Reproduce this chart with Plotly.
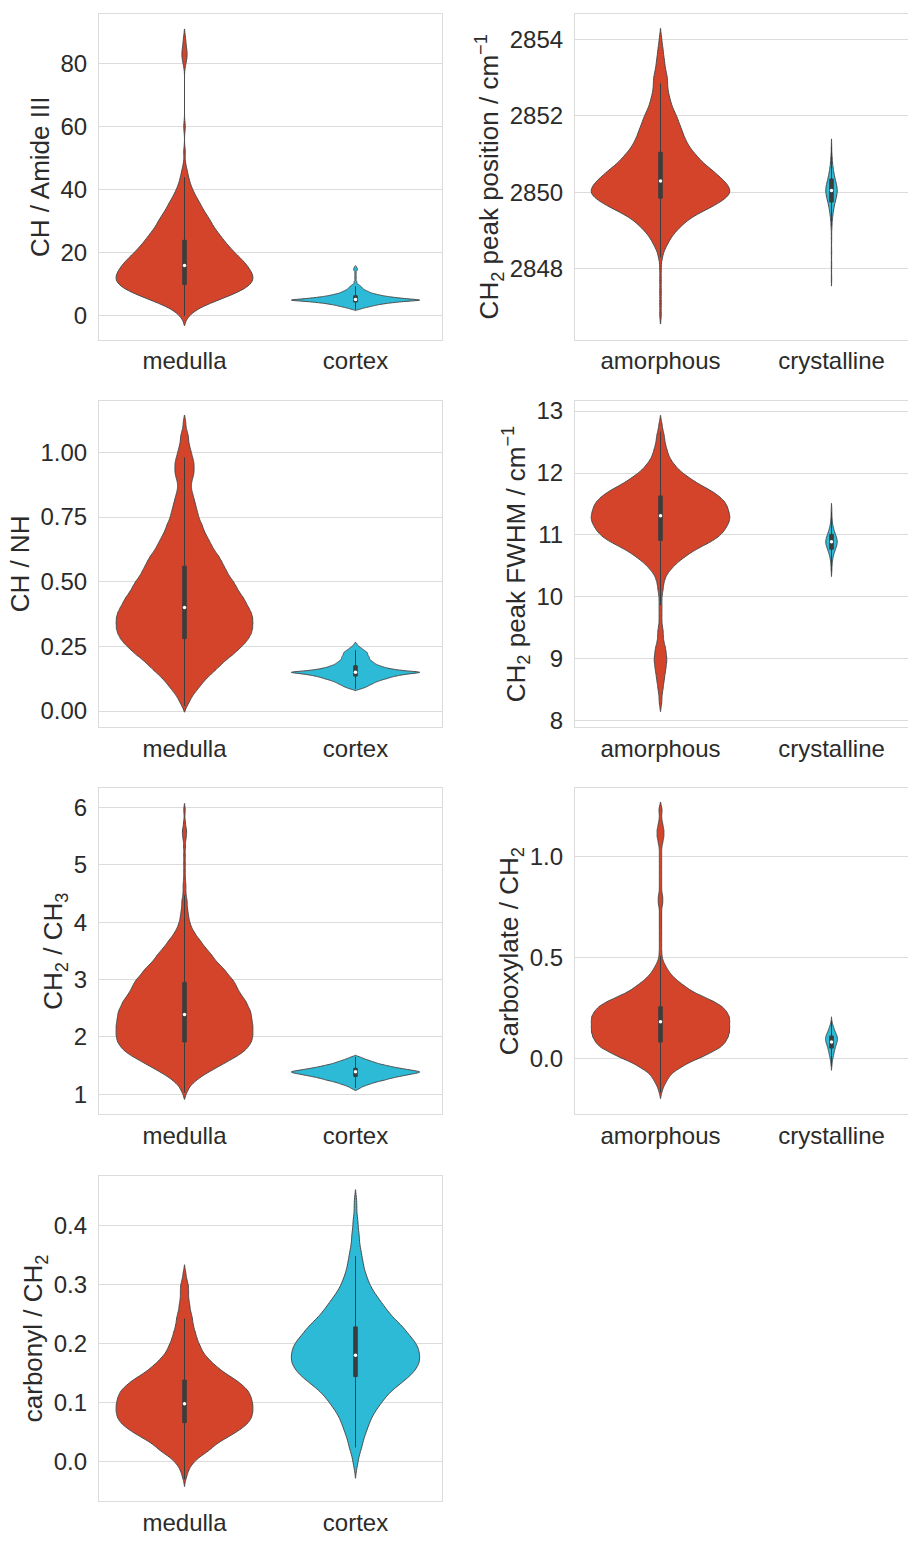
import statistics
import plotly.graph_objects as go

# ---------------- data: sample values (binned) ----------------
groups_hair = ["medulla", "cortex"]
groups_lipid = ["amorphous", "crystalline"]

# Panel 1: CH / Amide III
ch_amide_medulla_values = [0, 2, 4, 6, 8, 10, 12, 14, 16, 18, 20, 22, 24, 26, 28, 30, 32, 34, 36, 38,
                           40, 42, 44, 46, 48, 52, 60, 80, 82, 84, 86, 88]
ch_amide_medulla_counts = [3, 8, 18, 30, 41, 48, 50, 48, 45, 41, 36, 32, 28, 25, 21, 19, 16, 13, 11, 8,
                           6, 4, 3, 2, 1, 1, 1, 1, 2, 2, 1, 1]
ch_amide_cortex_values = [2.0, 2.2, 2.4, 2.6, 2.8, 3.0, 3.2, 3.4, 3.6, 3.8, 4.0, 4.2, 4.4, 4.6, 4.8,
                          5.0, 5.2, 5.4, 5.6, 5.8, 6.0, 6.2, 6.4, 6.6, 6.8, 7.0, 7.2, 7.4, 7.6, 7.8,
                          8.0, 8.2, 8.4, 8.6, 8.8, 9.0, 9.2, 9.4, 9.6, 9.8, 10.0, 10.2, 10.4, 10.6,
                          10.8, 11.0, 11.4, 11.8, 12.2, 12.6, 13.0, 13.4, 13.8, 14.2, 14.5, 14.8,
                          15.1, 15.4, 15.6]
ch_amide_cortex_counts = [2, 4, 5, 7, 9, 11, 13, 15, 17, 20, 23, 27, 31, 36, 42,
                          50, 44, 39, 34, 30, 26, 23, 20, 18, 16, 14, 12, 11, 10, 9,
                          8, 7, 6, 6, 5, 5, 4, 4, 3, 3, 2, 1, 1, 1,
                          1, 1, 1, 1, 1, 1, 1, 1, 1, 1, 2, 2,
                          2, 1, 1]

# Panel 2: CH2 peak position
ch2_pos_amorphous_values = [2846.8, 2847.1, 2847.4, 2847.7, 2848.0, 2848.3, 2848.5, 2848.65, 2848.8,
                            2848.95, 2849.1, 2849.25, 2849.4, 2849.55, 2849.7, 2849.85, 2850.0,
                            2850.15, 2850.3, 2850.45, 2850.6, 2850.75, 2850.9, 2851.05, 2851.2,
                            2851.35, 2851.5, 2851.65, 2851.8, 2851.95, 2852.1, 2852.25, 2852.4,
                            2852.55, 2852.7, 2852.85, 2853.0, 2853.15, 2853.3, 2853.45, 2853.6,
                            2853.75, 2853.9, 2854.05]
ch2_pos_amorphous_counts = [1, 1, 1, 1, 1, 2, 3, 5, 7,
                            10, 14, 18, 24, 32, 40, 46, 50,
                            48, 45, 40, 36, 30, 27, 23, 20,
                            18, 16, 15, 13, 12, 10, 8, 7,
                            6, 5, 5, 5, 4, 3, 3, 2,
                            2, 1, 1]
ch2_pos_crystalline_values = [2847.75, 2848.1, 2848.45, 2848.8, 2849.1, 2849.3, 2849.45, 2849.6,
                              2849.75, 2849.9, 2850.05, 2850.2, 2850.35, 2850.5, 2850.65, 2850.8,
                              2850.95, 2851.2]
ch2_pos_crystalline_counts = [1, 1, 1, 1, 2, 3, 5, 8, 12, 17, 20, 17, 12, 8, 5, 3, 2, 1]

# Panel 3: CH / NH
ch_nh_medulla_values = [0.02, 0.04, 0.06, 0.08, 0.10, 0.12, 0.14, 0.16, 0.18, 0.20, 0.22, 0.24,
                        0.26, 0.28, 0.30, 0.32, 0.34, 0.36, 0.38, 0.40, 0.42, 0.44, 0.46, 0.48,
                        0.50, 0.52, 0.54, 0.56, 0.58, 0.60, 0.62, 0.64, 0.66, 0.68, 0.70, 0.72,
                        0.74, 0.76, 0.78, 0.80, 0.82, 0.84, 0.86, 0.88, 0.90, 0.92, 0.94, 0.96,
                        0.98, 1.00, 1.02, 1.04, 1.06, 1.08, 1.10, 1.12]
ch_nh_medulla_counts = [2, 4, 6, 9, 12, 15, 19, 23, 27, 31, 36, 40,
                        44, 47, 49, 50, 50, 50, 49, 47, 45, 43, 40, 38,
                        36, 33, 31, 29, 27, 25, 22, 20, 18, 16, 14, 13,
                        11, 10, 9, 8, 7, 6, 5, 5, 6, 7, 7, 7,
                        6, 5, 4, 3, 3, 2, 1, 1]
ch_nh_cortex_values = [0.085, 0.09, 0.095, 0.1, 0.105, 0.11, 0.115, 0.12, 0.125, 0.13, 0.135, 0.14,
                       0.145, 0.15, 0.155, 0.16, 0.165, 0.17, 0.175, 0.18, 0.185, 0.19, 0.195,
                       0.2, 0.205, 0.21, 0.215, 0.22, 0.225, 0.23, 0.235, 0.24, 0.245, 0.25,
                       0.255, 0.26]
ch_nh_cortex_counts = [3, 5, 7, 8, 10, 11, 13, 15, 18, 20, 23, 27,
                       32, 40, 29, 23, 19, 16, 14, 12, 11, 10, 9,
                       8, 8, 8, 7, 7, 7, 6, 5, 4, 3, 2,
                       1, 1]

# Panel 4: CH2 peak FWHM
fwhm_amorphous_values = [8.27, 8.35, 8.43, 8.51, 8.59, 8.67, 8.75, 8.83, 8.91, 8.99, 9.07, 9.15,
                         9.23, 9.31, 9.39, 9.47, 9.55, 9.63, 9.71, 9.79, 9.87, 9.95, 10.03, 10.11,
                         10.19, 10.27, 10.35, 10.43, 10.51, 10.59, 10.67, 10.75, 10.83, 10.91,
                         10.99, 11.07, 11.15, 11.23, 11.31, 11.39, 11.47, 11.55, 11.63, 11.71,
                         11.79, 11.87, 11.95, 12.03, 12.11, 12.19, 12.27, 12.35, 12.43, 12.51,
                         12.59, 12.67, 12.75, 12.81]
fwhm_amorphous_counts = [1, 1, 1, 2, 2, 3, 3, 4, 4, 5, 4, 4,
                         3, 2, 2, 2, 1, 1, 1, 1, 1, 1, 1, 2,
                         2, 3, 4, 7, 10, 14, 19, 24, 31, 38,
                         43, 46, 48, 50, 50, 49, 48, 46, 42, 37,
                         30, 24, 19, 14, 11, 8, 6, 5, 4, 3,
                         3, 2, 1, 1]
fwhm_crystalline_values = [10.41, 10.47, 10.53, 10.59, 10.65, 10.71, 10.77, 10.83, 10.89, 10.95,
                           11.01, 11.07, 11.13, 11.19, 11.25, 11.31, 11.37, 11.43]
fwhm_crystalline_counts = [1, 1, 2, 3, 5, 8, 12, 16, 18, 16, 12, 8, 5, 3, 2, 1, 1, 1]

# Panel 5: CH2 / CH3
ch2_ch3_medulla_values = [1.03, 1.11, 1.19, 1.27, 1.35, 1.43, 1.51, 1.59, 1.67, 1.75, 1.83, 1.91,
                          1.99, 2.07, 2.15, 2.23, 2.31, 2.39, 2.47, 2.55, 2.63, 2.71, 2.79, 2.87,
                          2.95, 3.03, 3.11, 3.19, 3.27, 3.35, 3.43, 3.51, 3.59, 3.67, 3.75, 3.83,
                          3.91, 3.99, 4.07, 4.15, 4.23, 4.31, 4.39, 4.47, 4.55, 4.63, 4.71,
                          4.85, 5.0, 5.15, 5.3, 5.42, 5.52, 5.62, 5.75, 5.95]
ch2_ch3_medulla_counts = [2, 3, 6, 10, 15, 21, 27, 33, 39, 44, 47, 49,
                          50, 50, 50, 50, 49, 49, 48, 46, 45, 42, 40, 38,
                          37, 34, 31, 29, 25, 22, 20, 17, 14, 12, 9, 7,
                          5, 4, 3, 3, 2, 2, 2, 1, 1, 1, 1,
                          1, 1, 1, 1, 1, 2, 2, 1, 1]
ch2_ch3_cortex_values = [1.09, 1.11, 1.13, 1.15, 1.17, 1.19, 1.21, 1.23, 1.25, 1.27, 1.29, 1.31,
                         1.33, 1.35, 1.37, 1.39, 1.41, 1.43, 1.45, 1.47, 1.49, 1.51, 1.53, 1.55,
                         1.57, 1.59, 1.61, 1.63, 1.65]
ch2_ch3_cortex_counts = [2, 3, 4, 6, 8, 10, 12, 15, 18, 20, 23, 26,
                         30, 33, 37, 40, 35, 31, 27, 23, 20, 17, 14, 12,
                         10, 8, 6, 4, 3]

# Panel 6: Carboxylate / CH2
carboxylate_amorphous_values = [-0.17, -0.145, -0.12, -0.095, -0.07, -0.045, -0.02, 0.005, 0.03,
                                0.055, 0.08, 0.105, 0.13, 0.155, 0.18, 0.205, 0.23, 0.255, 0.28,
                                0.305, 0.33, 0.355, 0.38, 0.405, 0.43, 0.455, 0.48, 0.505,
                                0.53, 0.56, 0.59, 0.62, 0.65, 0.68, 0.71, 0.74, 0.77, 0.80, 0.83,
                                0.86, 0.89, 0.92, 0.95, 0.98, 1.01, 1.04, 1.07, 1.10, 1.13, 1.16,
                                1.19, 1.22, 1.24]
carboxylate_amorphous_counts = [1, 2, 4, 6, 9, 15, 21, 30, 37,
                                44, 47, 49, 50, 50, 50, 50, 48, 45, 39,
                                31, 23, 18, 13, 9, 6, 4, 2, 1,
                                1, 1, 1, 1, 1, 1, 1, 1, 2, 2, 1,
                                1, 1, 1, 1, 1, 1, 1, 2, 3, 3, 2,
                                1, 1, 1]
carboxylate_crystalline_values = [-0.04, -0.025, -0.01, 0.005, 0.02, 0.035, 0.05, 0.065, 0.08,
                                  0.095, 0.11, 0.125, 0.14, 0.155, 0.17, 0.185]
carboxylate_crystalline_counts = [1, 2, 3, 5, 7, 9, 11, 14, 17, 19, 17, 13, 9, 6, 3, 1]

# Panel 7: carbonyl / CH2
carbonyl_medulla_values = [-0.03, -0.022, -0.014, -0.006, 0.002, 0.010, 0.018, 0.026, 0.034, 0.042,
                           0.050, 0.058, 0.066, 0.074, 0.082, 0.090, 0.098, 0.106, 0.114, 0.122,
                           0.130, 0.138, 0.146, 0.154, 0.162, 0.170, 0.178, 0.186, 0.194, 0.202,
                           0.210, 0.218, 0.226, 0.234, 0.242, 0.250, 0.258, 0.266, 0.274, 0.282,
                           0.290, 0.298, 0.306, 0.314, 0.321]
carbonyl_medulla_counts = [1, 2, 3, 5, 8, 12, 18, 21, 26, 32,
                           38, 43, 47, 49, 50, 50, 50, 49, 48, 46,
                           42, 38, 32, 27, 23, 19, 16, 13, 12, 10,
                           9, 8, 7, 6, 6, 5, 4, 4, 3, 3,
                           3, 3, 2, 1, 1]
carbonyl_cortex_values = [-0.012, 0.0, 0.012, 0.024, 0.036, 0.048, 0.06, 0.072, 0.084, 0.096, 0.108,
                          0.12, 0.132, 0.144, 0.156, 0.168, 0.18, 0.192, 0.204, 0.216, 0.228, 0.24,
                          0.252, 0.264, 0.276, 0.288, 0.3, 0.312, 0.324, 0.336, 0.348, 0.36, 0.372,
                          0.384, 0.396, 0.408, 0.42, 0.432, 0.444]
carbonyl_cortex_counts = [1, 2, 3, 5, 6, 8, 10, 12, 15, 19, 23,
                          28, 35, 42, 47, 50, 50, 49, 46, 41, 37, 31,
                          26, 22, 18, 14, 11, 9, 7, 6, 5, 4, 3,
                          3, 2, 2, 1, 1, 1]

y_titles = [
    "CH / Amide III",
    "CH<sub>2</sub> peak position / cm<sup>\u22121</sup>",
    "CH / NH",
    "CH<sub>2</sub> peak FWHM / cm<sup>\u22121</sup>",
    "CH<sub>2</sub> / CH<sub>3</sub>",
    "Carboxylate / CH<sub>2</sub>",
    "carbonyl / CH<sub>2</sub>",
]


def expand(values, counts):
    out = []
    for v, c in zip(values, counts):
        out.extend([v] * c)
    return out


# ---------------- styling ----------------
RED = "#D3442B"
CYAN = "#2DBAD6"
EDGE = "#4a4a4a"
BOX = "#3d3d3d"
GRID = "#dcdcdc"
FONT = "Liberation Sans, Arial, sans-serif"
TXT = "#2b2b2b"
W, H = 908, 1541                 # figure fills the whole page (body margin removed below)
CAT_PX = 171.0                   # pixels per category unit

panels = [
    # cats, [(values, counts) x2], bandwidths, widths, y range, dtick, tickformat, col, row
    (groups_hair, [(ch_amide_medulla_values, ch_amide_medulla_counts),
                   (ch_amide_cortex_values, ch_amide_cortex_counts)],
     [1.5, 0.15], [0.80, 0.75], [-7.5, 95.8], 20, None, 0, 0),
    (groups_lipid, [(ch2_pos_amorphous_values, ch2_pos_amorphous_counts),
                    (ch2_pos_crystalline_values, ch2_pos_crystalline_counts)],
     [0.12, 0.1], [0.81, 0.067], [2846.15, 2854.67], 2, None, 1, 0),
    (groups_hair, [(ch_nh_medulla_values, ch_nh_medulla_counts),
                   (ch_nh_cortex_values, ch_nh_cortex_counts)],
     [0.012, 0.003], [0.80, 0.75], [-0.061, 1.198], 0.25, ".2f", 0, 1),
    (groups_lipid, [(fwhm_amorphous_values, fwhm_amorphous_counts),
                    (fwhm_crystalline_values, fwhm_crystalline_counts)],
     [0.06, 0.04], [0.81, 0.067], [7.904, 13.16], 1, None, 1, 1),
    (groups_hair, [(ch2_ch3_medulla_values, ch2_ch3_medulla_counts),
                   (ch2_ch3_cortex_values, ch2_ch3_cortex_counts)],
     [0.06, 0.015], [0.80, 0.75], [0.654, 6.334], 1, None, 0, 2),
    (groups_lipid, [(carboxylate_amorphous_values, carboxylate_amorphous_counts),
                    (carboxylate_crystalline_values, carboxylate_crystalline_counts)],
     [0.015, 0.01], [0.81, 0.07], [-0.277, 1.338], 0.5, ".1f", 1, 2),
    (groups_hair, [(carbonyl_medulla_values, carbonyl_medulla_counts),
                   (carbonyl_cortex_values, carbonyl_cortex_counts)],
     [0.006, 0.008], [0.80, 0.75], [-0.067, 0.484], 0.1, ".1f", 0, 3),
]

# panel frames in page pixels (right column is cut by the page edge)
row_px = [(10, 338), (400, 728), (790, 1118), (1180, 1508)]
col_px = [(99, 442), (575, 908)]

fig = go.Figure()
layout = dict(
    width=W, height=H, margin=dict(l=0, r=0, t=0, b=0),
    paper_bgcolor="white", plot_bgcolor="white",
    violinmode="overlay", showlegend=False,
    font=dict(family=FONT, color=TXT),
)

for i, (cats, datas, bws, widths, yr, dt, tf, col, row) in enumerate(panels):
    n = i + 1
    xa = "x" if n == 1 else f"x{n}"
    ya = "y" if n == 1 else f"y{n}"
    for cat, (vals, cnts), bw, w, color in zip(cats, datas, bws, widths, [RED, CYAN]):
        samples = expand(vals, cnts)
        fig.add_trace(go.Violin(
            x=[cat] * len(samples), y=samples, name=cat, xaxis=xa, yaxis=ya,
            fillcolor=color, line=dict(color=EDGE, width=1), opacity=1,
            points=False, spanmode="soft", bandwidth=bw,
            scalemode="width", width=w,
            box=dict(visible=True, width=3.5 / (w * CAT_PX), fillcolor=BOX,
                     line=dict(color=BOX, width=1)),
            meanline=dict(visible=False), showlegend=False, hoverinfo="y",
        ))
        # white median dot (seaborn-style inner box)
        fig.add_trace(go.Scatter(
            x=[cat], y=[statistics.median(samples)], xaxis=xa, yaxis=ya,
            mode="markers", marker=dict(color="white", size=3.5, line=dict(width=0)),
            showlegend=False, hoverinfo="skip",
        ))
    x0, x1 = col_px[col]
    y0, y1 = row_px[row]
    xr = [-0.5, -0.5 + (x1 - x0) / CAT_PX]
    xkey = "xaxis" if n == 1 else f"xaxis{n}"
    ykey = "yaxis" if n == 1 else f"yaxis{n}"
    layout[xkey] = dict(
        domain=[x0 / W, min(1.0, x1 / W)], anchor=ya, type="category",
        categoryorder="array", categoryarray=cats, range=xr,
        showgrid=False, zeroline=False, showline=True, linecolor=GRID, linewidth=1.2,
        mirror=True, ticks="", ticklabelstandoff=0,
        tickfont=dict(size=24, color=TXT, family=FONT),
    )
    ydict = dict(
        domain=[1 - y1 / H, 1 - y0 / H], anchor=xa,
        range=yr, dtick=dt,
        showgrid=True, gridcolor=GRID, gridwidth=1.2, zeroline=False,
        showline=True, linecolor=GRID, linewidth=1.2, mirror=(col == 0),
        ticks="", ticklabelstandoff=6,
        tickfont=dict(size=24, color=TXT, family=FONT),
        title=dict(text=y_titles[i], font=dict(size=26, color=TXT, family=FONT), standoff=3),
    )
    if tf:
        ydict["tickformat"] = tf
    layout[ykey] = ydict

fig.update_layout(**layout)
fig.write_html(
    "out.html",
    config={"displayModeBar": False},
    post_script="document.body.style.margin='0px';document.body.style.padding='0px';"
                "document.documentElement.style.overflow='hidden';",
)
